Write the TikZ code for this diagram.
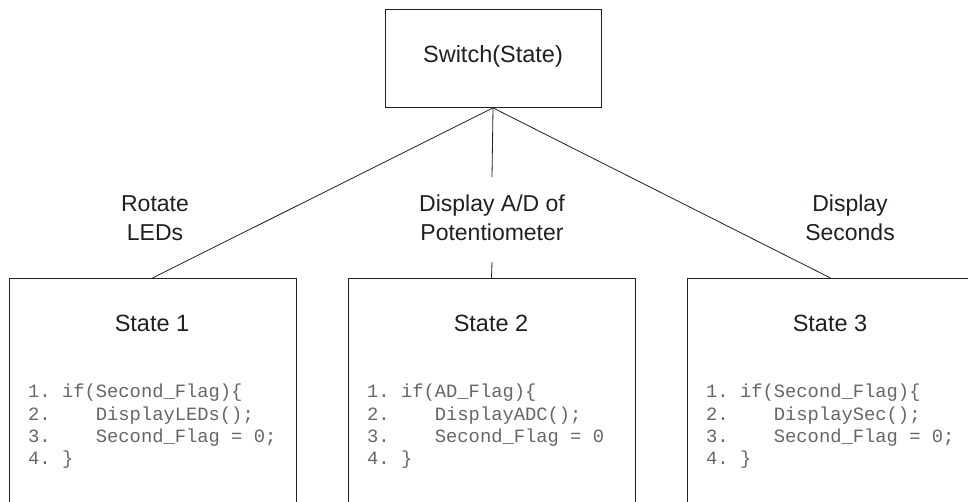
\documentclass[tikz,border=0pt]{standalone}
\usepackage{fontspec}
\setmainfont{Liberation Sans}
\newfontfamily\codefont{Liberation Mono}
\definecolor{ink}{HTML}{231F20}
\definecolor{codegray}{HTML}{666666}
\tikzset{
  box/.style={draw=ink, line width=0.9pt, rectangle, inner sep=0pt},
  conn/.style={draw=ink, line width=0.8pt},
  lbl/.style={text=ink, font=\fontsize{23}{29}\selectfont, align=center, inner sep=0pt},
  title/.style={text=ink, font=\fontsize{23.5}{28}\selectfont, inner sep=0pt},
  code/.style={text=codegray, font=\codefont\fontsize{18.8}{22.3}\selectfont, align=left, anchor=north west, inner sep=0pt}
}
\begin{document}
\begin{tikzpicture}[x=1pt,y=-1pt]
\clip (0,0) rectangle (968,501);
\fill[white] (0,0) rectangle (968,501);
% top box
\node[box, minimum width=216pt, minimum height=98pt, anchor=north] (top) at (493,9) {};
\node[title] (toptext) at (493,56) {Switch(State)};
% state boxes
\node[box, minimum width=287pt, minimum height=260pt, anchor=north] (s1) at (152.5,278) {};
\node[box, minimum width=287pt, minimum height=260pt, anchor=north] (s2) at (491.5,278) {};
\node[box, minimum width=287pt, minimum height=260pt, anchor=north] (s3) at (830.5,278) {};
% titles
\node[title] (t1) at (152,323) {State 1};
\node[title] (t2) at (491,323) {State 2};
\node[title] (t3) at (830,323) {State 3};
% code
\node[code] (c1) at (28,384) {1.\ if(Second\_Flag)\{\\2.\ \ \ \ DisplayLEDs();\\3.\ \ \ \ Second\_Flag = 0;\\4.\ \}};
\node[code] (c2) at (367,384) {1.\ if(AD\_Flag)\{\\2.\ \ \ \ DisplayADC();\\3.\ \ \ \ Second\_Flag = 0\\4.\ \}};
\node[code] (c3) at (706,384) {1.\ if(Second\_Flag)\{\\2.\ \ \ \ DisplaySec();\\3.\ \ \ \ Second\_Flag = 0;\\4.\ \}};
% labels
\node[lbl] (l1) at (155,218) {Rotate\\LEDs};
\node[lbl] (l2) at (492,218) {Display A/D of\\Potentiometer};
\node[lbl] (l3) at (850,218) {Display\\Seconds};
% connectors
\coordinate (m1) at (492,177);
\coordinate (m2) at (492,262);
\draw[conn] (top.south) -- (s1.north);
\draw[conn] (top.south) -- (s3.north);
\draw[conn] (top.south) -- (m1);
\draw[conn] (m2) -- (s2.north);
\end{tikzpicture}
\end{document}
